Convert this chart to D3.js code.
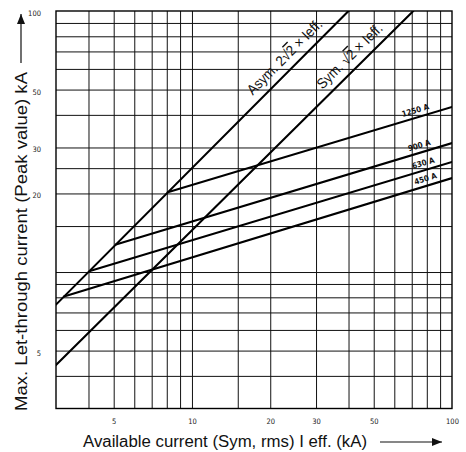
<!DOCTYPE html>
<html>
<head>
<meta charset="utf-8">
<script src="https://cdn.jsdelivr.net/npm/d3@7"></script>
<style>
  html, body { margin: 0; padding: 0; background: #fff; }
  svg { display: block; }
</style>
</head>
<body>
<svg id="chart" width="466" height="452"></svg>
<script>
// ---------------- data ----------------
const xDomain = [3, 100];
const yDomain = [3, 100];
const xTickValues = [5, 10, 20, 30, 50, 100];
const yTickValues = [5, 20, 30, 50, 100];
const xGridValues = [4, 5, 6, 7, 8, 9, 10, 15, 20, 30, 40, 50, 60, 70, 80, 90];
const yGridValues = [4, 5, 6, 7, 8, 9, 10, 15, 20, 25, 30, 40, 50, 60, 70, 80, 90];

// Asymmetric peak line (2√2 × Ieff)
const asymX = [3, 40];
const asymY = [7.5, 100];
// Symmetric peak line (√2 × Ieff)
const symX = [3, 71];
const symY = [4.4, 100];

// Fuse cut-off lines
const fuseNames = ["1250 A", "900 A", "630 A", "450 A"];
const fuseStartX = [8.07, 5.1, 4.05, 3.22];
const fuseStartY = [20.2, 12.75, 10.1, 8.05];
const fuseEndX = [100, 100, 100, 100];
const fuseEndY = [42.9, 31.2, 26.4, 22.9];

const xTitle = "Available current (Sym, rms) I eff. (kA)";
const yTitle = "Max. Let-through current (Peak value) kA";

// ---------------- drawing ----------------
const svg = d3.select("#chart");
const x = d3.scaleLog().domain(xDomain).range([56, 452]);
const y = d3.scaleLog().domain(yDomain).range([408.5, 11]);
const plotH = y(yDomain[0]) - y(yDomain[1]);
const plotW = x(xDomain[1]) - x(xDomain[0]);

// grid via axes
const gx = svg.append("g")
  .attr("transform", `translate(0,${y(yDomain[0])})`)
  .call(d3.axisBottom(x).tickValues(xGridValues).tickSize(-plotH).tickFormat(""));
gx.select(".domain").remove();
gx.selectAll("line").attr("stroke", "#111").attr("stroke-width", 1);

const gy = svg.append("g")
  .attr("transform", `translate(${x(xDomain[0])},0)`)
  .call(d3.axisLeft(y).tickValues(yGridValues).tickSize(-plotW).tickFormat(""));
gy.select(".domain").remove();
gy.selectAll("line").attr("stroke", "#111").attr("stroke-width", 1);

// border
svg.append("rect")
  .attr("x", x(xDomain[0])).attr("y", y(yDomain[1]))
  .attr("width", plotW).attr("height", plotH)
  .attr("fill", "none").attr("stroke", "#000").attr("stroke-width", 1.4);

// tick labels
const tickFont = "'DejaVu Sans Condensed', 'Liberation Sans Narrow', sans-serif";
const ax = svg.append("g")
  .attr("transform", `translate(0,${y(yDomain[0])})`)
  .call(d3.axisBottom(x).tickValues(xTickValues).tickSize(0).tickPadding(10).tickFormat(d3.format("d")));
ax.select(".domain").remove();
ax.selectAll("text").attr("font-family", tickFont).attr("font-size", 7.5).attr("fill", "#222");

const ay = svg.append("g")
  .attr("transform", `translate(${x(xDomain[0])},0)`)
  .call(d3.axisLeft(y).tickValues(yTickValues).tickSize(0).tickPadding(15).tickFormat(d3.format("d")));
ay.select(".domain").remove();
ay.selectAll("text").attr("font-family", tickFont).attr("font-size", 7.5).attr("fill", "#222")
  .attr("dy", "0.6em");

// curves
const line = d3.line().x(d => x(d[0])).y(d => y(d[1]));
const zip = (a, b) => a.map((v, i) => [v, b[i]]);
const curves = [zip(asymX, asymY), zip(symX, symY)];
fuseNames.forEach((n, i) => curves.push([[fuseStartX[i], fuseStartY[i]], [fuseEndX[i], fuseEndY[i]]]));

const clipId = "plotclip";
svg.append("clipPath").attr("id", clipId).append("rect")
  .attr("x", x(xDomain[0])).attr("y", y(yDomain[1])).attr("width", plotW).attr("height", plotH);

svg.append("g").attr("clip-path", `url(#${clipId})`)
  .selectAll("path").data(curves).join("path")
  .attr("d", line).attr("fill", "none").attr("stroke", "#000")
  .attr("stroke-width", 2.1).attr("stroke-linecap", "round");

// helpers for label along a line
function along(pts, xv) {
  const [a, b] = [pts[0], pts[pts.length - 1]];
  const px1 = x(a[0]), py1 = y(a[1]), px2 = x(b[0]), py2 = y(b[1]);
  const t = (x(xv) - px1) / (px2 - px1);
  return { px: x(xv), py: py1 + t * (py2 - py1), ang: Math.atan2(py2 - py1, px2 - px1) * 180 / Math.PI };
}

// root labels
function rootLabel(pts, xv, prefix, off, len) {
  const p = along(pts, xv);
  const t = svg.append("text")
    .attr("transform", `translate(${p.px},${p.py}) rotate(${p.ang})`)
    .attr("y", -off)
    .attr("font-family", "'Liberation Sans', Arial, sans-serif")
    .attr("font-size", 14.5).attr("fill", "#111")
    .attr("textLength", len).attr("lengthAdjust", "spacingAndGlyphs");
  t.append("tspan").text(prefix + "\u221A");
  t.append("tspan").text("2").style("text-decoration", "overline");
  t.append("tspan").text(" \u00D7 Ieff.");
}
rootLabel(curves[0], 18.0, "Asym. 2", 8, 100);
rootLabel(curves[1], 33.4, "Sym. ", 8, 86);

// fuse labels
const fuseLabelX = [73.6, 76.2, 79, 80.5];
fuseNames.forEach((n, i) => {
  const p = along(curves[2 + i], fuseLabelX[i]);
  svg.append("text")
    .attr("transform", `translate(${p.px},${p.py}) rotate(${p.ang})`)
    .attr("y", -4.5)
    .attr("text-anchor", "middle")
    .attr("font-family", tickFont).attr("font-weight", "bold")
    .attr("font-size", 8).attr("fill", "#111")
    .text(n);
});

// axis titles
const titleFont = "'Liberation Sans', Arial, sans-serif";
svg.append("text")
  .attr("x", 83).attr("y", 447)
  .attr("font-family", titleFont).attr("font-size", 16).attr("fill", "#111")
  .attr("textLength", 284).attr("lengthAdjust", "spacingAndGlyphs")
  .text(xTitle);
svg.append("text")
  .attr("transform", "translate(27,411) rotate(-90)")
  .attr("font-family", titleFont).attr("font-size", 16).attr("fill", "#111")
  .attr("textLength", 339).attr("lengthAdjust", "spacingAndGlyphs")
  .text(yTitle);

// arrows
const defs = svg.append("defs");
defs.append("marker").attr("id", "arr").attr("viewBox", "0 0 10 8")
  .attr("refX", 10).attr("refY", 4).attr("markerWidth", 10).attr("markerHeight", 8)
  .attr("markerUnits", "userSpaceOnUse").attr("orient", "auto")
  .append("path").attr("d", "M0,0 L10,4 L0,8 Z").attr("fill", "#111");
svg.append("line").attr("x1", 380).attr("y1", 442).attr("x2", 442).attr("y2", 442)
  .attr("stroke", "#111").attr("stroke-width", 1.2).attr("marker-end", "url(#arr)");
svg.append("line").attr("x1", 21).attr("y1", 63).attr("x2", 21).attr("y2", 14)
  .attr("stroke", "#111").attr("stroke-width", 1.2).attr("marker-end", "url(#arr)");
</script>
</body>
</html>
